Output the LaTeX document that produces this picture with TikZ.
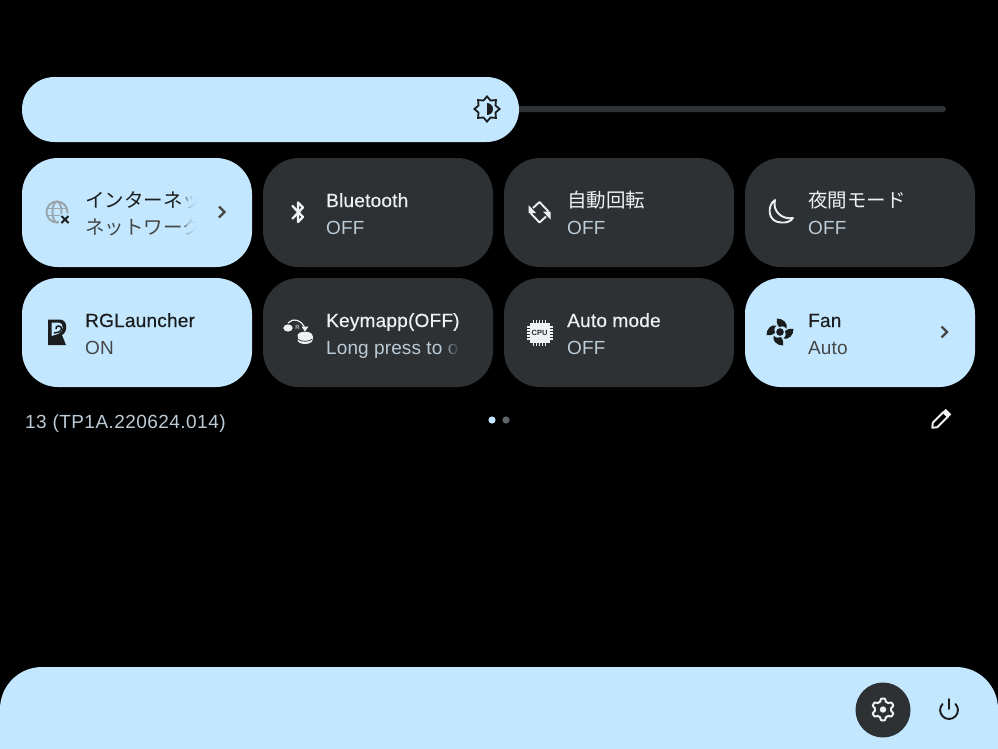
\documentclass[tikz,border=0pt]{standalone}
\usepackage{fontspec}
\setmainfont{Liberation Sans}
\newfontfamily\medf[FakeBold=0.5,LetterSpace=1.2]{Liberation Sans}
\newfontfamily\regf[LetterSpace=0.6]{Liberation Sans}
\newfontfamily\verf[LetterSpace=2.4]{Liberation Sans}
\newfontfamily\cjk{Noto Sans CJK JP}
\definecolor{qblue}{HTML}{C2E7FF}
\definecolor{qdark}{HTML}{2D3134}
\definecolor{qink}{HTML}{1B1C1D}
\definecolor{qsubl}{HTML}{444746}
\definecolor{qsubd}{HTML}{BCCBD6}
\definecolor{qwhite}{HTML}{EEF0F1}
\definecolor{qtrack}{HTML}{2F3234}
\definecolor{qgrey}{HTML}{9AA6AD}
\definecolor{qdot}{HTML}{5F6466}
\tikzset{
  tile/.style={minimum width=230pt,minimum height=109pt,inner sep=0pt,outer sep=0pt,rounded corners=36pt},
  on/.style={tile,fill=qblue},
  off/.style={tile,fill=qdark},
  ttl/.style={anchor=base west,inner sep=0pt,font=\medf\fontsize{19}{20}\selectfont},
  sub/.style={anchor=base west,inner sep=0pt,font=\regf\fontsize{19}{20}\selectfont},
  jp/.style={anchor=base west,inner sep=0pt,font=\cjk\fontsize{19.5}{21}\selectfont},
  ico/.style={line width=1.9pt,line cap=round,line join=round},
}
\begin{document}
\begin{tikzpicture}[x=1pt,y=-1pt]
\useasboundingbox (0,0) rectangle (998,748);
\fill[black] (0,0) rectangle (998,748);
% brightness
\fill[qtrack,rounded corners=3pt] (500,106) rectangle (946,112);
\fill[qblue,rounded corners=32.5pt] (22,77) rectangle (519,142);
% tiles
\node[on]  (t1) at (137,212.5) {};
\node[off] (t2) at (378,212.5) {};
\node[off] (t3) at (619,212.5) {};
\node[off] (t4) at (860,212.5) {};
\node[on]  (t5) at (137,332.5) {};
\node[off] (t6) at (378,332.5) {};
\node[off] (t7) at (619,332.5) {};
\node[on]  (t8) at (860,332.5) {};
% bottom panel
\fill[qblue,rounded corners=42pt] (0,667) rectangle (998,800);
\fill[qdark] (883,710) circle (27.5);
% labels
\begin{scope}
\clip (80,180) rectangle (196,245);
\node[jp,text=qink] (l1) at (85,207.5) {インターネット};
\node[jp,text=qsubl] (s1) at (85,234.5) {ネットワーク};
\end{scope}
\foreach \i in {0,...,9}
  \fill[qblue,opacity=0.3] ({185+1.1*\i},180) rectangle (197,245);
\node[ttl,text=qwhite] (l2) at (326,207) {Bluetooth};
\node[sub,text=qsubd] (s2) at (326,234) {OFF};
\node[jp,text=qwhite] (l3) at (567,207.5) {自動回転};
\node[sub,text=qsubd] (s3) at (567,234) {OFF};
\node[jp,text=qwhite] (l4) at (808,207.5) {夜間モード};
\node[sub,text=qsubd] (s4) at (808,234) {OFF};
\node[ttl,text=qink] (l5) at (85,327) {RGLauncher};
\node[sub,text=qsubl] (s5) at (85,354) {ON};
\node[ttl,text=qwhite] (l6) at (326,327) {Keymapp(OFF)};
\begin{scope}
\clip (320,335) rectangle (458.5,365);
\node[sub,text=qsubd] (s6) at (326,354) {Long press to open};
\end{scope}
\foreach \i in {0,...,9}
  \fill[qdark,opacity=0.16] ({446+1.3*\i},335) rectangle (461,365);
\node[ttl,text=qwhite] (l7) at (567,327) {Auto mode};
\node[sub,text=qsubd] (s7) at (567,354) {OFF};
\node[ttl,text=qink] (l8) at (808,327) {Fan};
\node[sub,text=qsubl] (s8) at (808,354) {Auto};
\node[sub,text=qsubd,font=\verf\fontsize{19}{20}\selectfont] (ver) at (25,428) {13 (TP1A.220624.014)};
% page dots
\fill[qblue] (492,420) circle (3.6);
\fill[qdot] (506,420) circle (3.6);
% brightness icon
\draw[qink,line width=1.8pt,line join=miter]
  plot[samples at={0,22.5,...,337.5}] ({487+(mod(round(\x/22.5),2)==0 ? 12.6 : 9.2)*cos(\x)},{109+(mod(round(\x/22.5),2)==0 ? 12.6 : 9.2)*sin(\x)}) -- cycle;
\fill[qink] (487,103) arc (-90:90:6) -- cycle;
% chevrons
\draw[qsubl,ico,line width=2.3pt,line cap=butt,line join=miter] (219,206.5) -- (224.5,212) -- (219,217.5);
\draw[qsubl,ico,line width=2.3pt,line cap=butt,line join=miter] (941.5,326.5) -- (947,332) -- (941.5,337.5);
% globe
\begin{scope}[qgrey,line width=1.9pt]
\draw (57,212) circle (10.5);
\draw (57,212) ellipse (4.5 and 10.5);
\draw (47.5,208.5) -- (66.5,208.5);
\draw (47.5,215.5) -- (66.5,215.5);
\end{scope}
\fill[qblue] (65,219.5) circle (6.5);
\draw[qink,line width=2pt] (61.5,216) -- (68.5,223) (61.5,223) -- (68.5,216);
% bluetooth
\draw[qwhite,ico,line width=2.3pt] (292.5,206) -- (303,217) -- (298,222) -- (298,202.5) -- (303,207.5) -- (292.5,218.5);
% rotate
\draw[qwhite,ico,line cap=butt] (533,208) -- (539.5,202) -- (548.5,211.5);
\draw[qwhite,ico,line cap=butt] (546,216.5) -- (539.5,222.5) -- (530.5,213);
\fill[qwhite] (528.5,213) -- (528.5,205) -- (536,213) -- cycle;
\fill[qwhite] (550.5,211.5) -- (550.5,219.5) -- (543,211.5) -- cycle;
% moon
\draw[qwhite,line width=1.9pt,line join=round] (775,200)
  .. controls (767,205) and (767,222) .. (781,222.5)
  .. controls (786,223) and (791,221.5) .. (793,218)
  .. controls (782,220) and (772,211) .. (775,200) -- cycle;
% R launcher
\fill[qink] (48,319.5) -- (60,319.5) .. controls (68,320) and (68,332) .. (62,335)
  -- (66,345) -- (48,345) -- cycle;
\fill[qblue] (51.5,322.5) -- (59,322.5) .. controls (64,323) and (64,332) .. (58,334)
  -- (51.5,336) -- cycle;
\draw[qink,line width=1.5pt] (56,329) .. controls (55,325) and (62,325) .. (61.5,329)
  .. controls (61,332) and (57,333) .. (54,333);
% keymapp
\fill[qwhite] (288,328) ellipse (4.7 and 3.6);
\fill[qwhite] (305,335.5) ellipse (7.5 and 3.8);
\fill[qwhite] (297.5,335.5) rectangle (312.5,340);
\fill[qwhite] (305,340) ellipse (7.5 and 4);
\draw[qdark,line width=0.7pt] (297.5,339) .. controls (300,342) and (310,342) .. (312.5,339);
\draw[qwhite,line width=1.2pt] (288,323) .. controls (292,318) and (302,319) .. (305,329);
\fill[qwhite] (301.5,326.5) -- (308.5,326.5) -- (305,331.5) -- cycle;
\node[inner sep=0pt,text=qwhite,font=\fontsize{6}{6}\selectfont] (kr) at (297.5,327) {R};
% CPU
\foreach \k in {0,...,4} {
  \draw[qwhite,line width=1.1pt] ({533.5+\k*3},320) -- ({533.5+\k*3},346);
  \draw[qwhite,line width=1.1pt] (526.5,{327+\k*3}) -- (552.5,{327+\k*3});
}
\fill[qwhite] (529.5,323) rectangle (549.5,343);
\node[inner sep=0pt,text=qdark,font=\bfseries\fontsize{7.5}{8}\selectfont] (cpu) at (539.5,333) {CPU};
% fan
\foreach \a in {0,90,180,270} {
  \begin{scope}[shift={(780,332)},rotate=\a]
  \fill[qink] (-1,-5) .. controls (-3,-8) and (-4,-11) .. (-3,-13.5)
     .. controls (3,-13.5) and (8,-9) .. (6.5,-3.5) .. controls (4,-6) and (1.5,-6.5) .. (-1,-5) -- cycle;
  \end{scope}
}
\fill[qblue] (780,332) circle (4.8);
\fill[qink] (780,332) circle (3.8);
% pencil
\begin{scope}[shift={(940,420)},rotate=-45]
\draw[qwhite,line width=1.9pt,line join=round] (-3.2,-8) -- (3.2,-8) -- (3.2,7) -- (0,11) -- (-3.2,7) -- cycle;
\fill[qwhite] (-3.9,-12) rectangle (3.9,-7);
\end{scope}
% gear
\draw[qwhite,line width=2pt,line join=round]
  plot[smooth cycle,samples at={0,5,...,355}] ({883+(9.6+1.4*tanh(3*cos(6*\x)))*cos(\x+30)},{709.5+(9.6+1.4*tanh(3*cos(6*\x)))*sin(\x+30)});
\fill[qwhite] (883,709.5) circle (3.2);
% power
\draw[qink,line width=1.9pt,line cap=round] (949,699) -- (949,709);
\draw[qink,line width=1.9pt,line cap=round] ({949-6.5},{710-6}) arc (223:-43:8.9);
\end{tikzpicture}
\end{document}
